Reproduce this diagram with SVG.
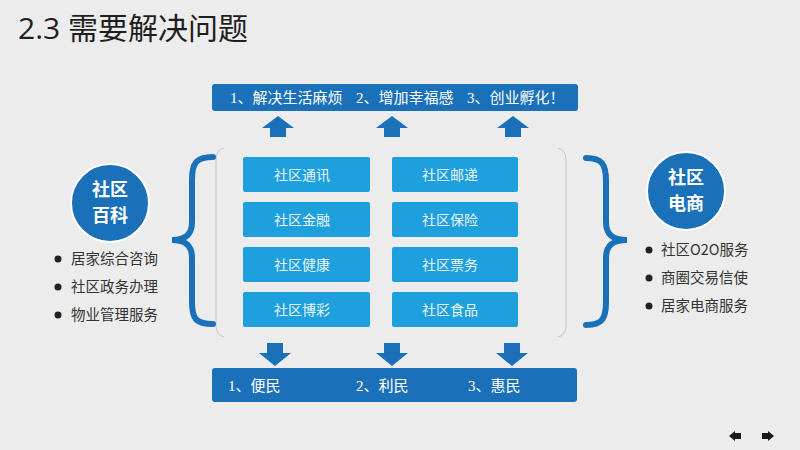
<svg xmlns="http://www.w3.org/2000/svg" width="800" height="450" viewBox="0 0 800 450">
<defs>
<style>
.bg{fill:#ececec}
.bar{fill:#1a70b9}
.box{fill:#1ea0de}
.barT{font-family:"Liberation Serif","Noto Sans CJK SC",serif;font-size:15px;fill:#ffffff}
.boxT{font-family:"Noto Sans CJK SC",sans-serif;font-size:14px;fill:#eaf6fd;text-anchor:middle}
.circ{fill:#1a70b9;stroke:#ffffff;stroke-width:2}
.circT{font-family:"Noto Sans CJK SC",sans-serif;font-size:18px;font-weight:bold;fill:#ffffff;text-anchor:middle}
.bul{font-family:"Noto Sans CJK SC",sans-serif;font-size:14.5px;fill:#333333}
.dot{fill:#222222}
.brace{fill:none;stroke:#1a70b9;stroke-width:6;stroke-linecap:round}
.frame{fill:none;stroke:#c4c4c4;stroke-width:1}
.arr{fill:#1a70b9}
</style>
</defs>
<rect class="bg" x="0" y="0" width="800" height="450"/>
<text x="18" y="39" font-family="'Open Sans','Noto Sans CJK SC',sans-serif" font-size="30" fill="#1e1e1e">2.3 需要解决问题</text>

<g id="connectors">
<path class="frame" d="M224,148 Q216,150 216,160 L216,326 Q216,335 224,337"/>
<path class="frame" d="M558,148 Q566,150 566,160 L566,326 Q566,335 558,337"/>
<path class="brace" d="M213,157 C196,157 192,163 192,180 L192,222 C192,234 186,240 172,240 C186,240 192,246 192,258 L192,302 C192,319 196,324 213,324"/>
<path class="brace" d="M586,158 C602,158 606,164 606,181 L606,222 C606,234 612,240 627,240 C612,240 606,246 606,258 L606,302 C606,319 602,325 586,325"/>
<polygon class="arr" points="278,116 294,128 286,128 286,137 270,137 270,128 262,128"/>
<polygon class="arr" points="392,116 408,128 400,128 400,137 384,137 384,128 376,128"/>
<polygon class="arr" points="513,116 529,128 521,128 521,137 505,137 505,128 497,128"/>
<polygon class="arr" points="267,343 283,343 283,353 291,353 275,366 259,353 267,353"/>
<polygon class="arr" points="384,343 400,343 400,353 408,353 392,366 376,353 384,353"/>
<polygon class="arr" points="504,343 520,343 520,353 528,353 512,366 496,353 504,353"/>
</g>

<g id="top-bar">
<rect class="bar" x="212" y="84" width="366" height="27" rx="3"/>
<text class="barT" x="230" y="103">1、解决生活麻烦</text>
<text class="barT" x="356" y="103">2、增加幸福感</text>
<text class="barT" x="467" y="103">3、创业孵化！</text>
</g>

<g id="bottom-bar">
<rect class="bar" x="212" y="368" width="365" height="34" rx="3"/>
<text class="barT" x="228" y="391">1、便民</text>
<text class="barT" x="356" y="391">2、利民</text>
<text class="barT" x="468" y="391">3、惠民</text>
</g>

<g id="box-tongxun"><rect class="box" x="243" y="157" width="127" height="35" rx="2"/><text class="boxT" x="302" y="180">社区通讯</text></g>
<g id="box-jinrong"><rect class="box" x="243" y="202" width="127" height="35" rx="2"/><text class="boxT" x="302" y="225">社区金融</text></g>
<g id="box-jiankang"><rect class="box" x="243" y="247" width="127" height="35" rx="2"/><text class="boxT" x="302" y="270">社区健康</text></g>
<g id="box-bocai"><rect class="box" x="243" y="292" width="127" height="35" rx="2"/><text class="boxT" x="302" y="315">社区博彩</text></g>
<g id="box-youdi"><rect class="box" x="392" y="157" width="126" height="35" rx="2"/><text class="boxT" x="450" y="180">社区邮递</text></g>
<g id="box-baoxian"><rect class="box" x="392" y="202" width="126" height="35" rx="2"/><text class="boxT" x="450" y="225">社区保险</text></g>
<g id="box-piaowu"><rect class="box" x="392" y="247" width="126" height="35" rx="2"/><text class="boxT" x="450" y="270">社区票务</text></g>
<g id="box-shipin"><rect class="box" x="392" y="292" width="126" height="35" rx="2"/><text class="boxT" x="450" y="315">社区食品</text></g>

<g id="left-node">
<circle class="circ" cx="110" cy="203" r="39"/>
<text class="circT" x="110" y="196">社区</text>
<text class="circT" x="110" y="222">百科</text>
<circle class="dot" cx="58" cy="259" r="3.5"/><text class="bul" x="71" y="264">居家综合咨询</text>
<circle class="dot" cx="58" cy="287" r="3.5"/><text class="bul" x="71" y="292">社区政务办理</text>
<circle class="dot" cx="58" cy="315" r="3.5"/><text class="bul" x="71" y="320">物业管理服务</text>
</g>

<g id="right-node">
<circle class="circ" cx="686" cy="191" r="39"/>
<text class="circT" x="686" y="184">社区</text>
<text class="circT" x="686" y="210">电商</text>
<circle class="dot" cx="649" cy="250" r="3.5"/><text class="bul" x="661" y="255">社区O2O服务</text>
<circle class="dot" cx="649" cy="278" r="3.5"/><text class="bul" x="661" y="283">商圈交易信使</text>
<circle class="dot" cx="649" cy="306" r="3.5"/><text class="bul" x="661" y="311">居家电商服务</text>
</g>

<g id="nav">
<polygon fill="#1a1a1a" points="729,436 735,431 735,433 741,433 741,439 735,439 735,441"/>
<polygon fill="#1a1a1a" points="774,436 768,431 768,433 762,433 762,439 768,439 768,441"/>
</g>
</svg>
